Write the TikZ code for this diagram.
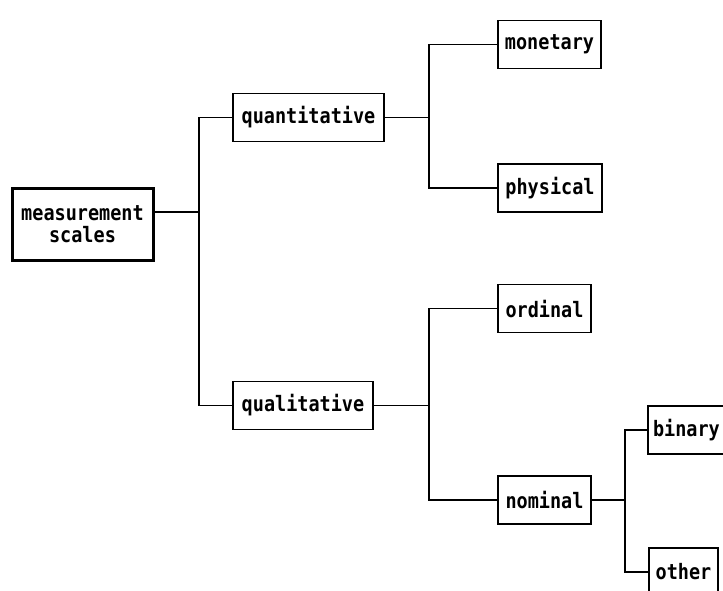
\documentclass[tikz,border=0pt]{standalone}
\usepackage{fontspec}
\usepackage{graphicx}
\newfontfamily\plotfont{DejaVu Sans Mono}
\newcommand{\tall}[1]{\scalebox{1}[1.15]{#1}}
\begin{document}
\begin{tikzpicture}[x=1pt,y=-1pt,
  box/.style={draw, line width=1.6pt, rectangle, inner sep=0pt,
    minimum height=48pt, align=center,
    font=\plotfont\bfseries\fontsize{18.5}{22}\selectfont},
  rootbox/.style={box, line width=3pt},
  wire/.style={line width=1.6pt}]
\useasboundingbox (0,0) rectangle (723,590);
\clip (0,0) rectangle (723,590);

% boxes
\node[rootbox, minimum width=141pt, minimum height=72pt] (meas) at (82.5,224) {\tall{measurement}\\\tall{scales}};
\node[box, minimum width=151pt] (quant) at (308.5,117.5) {\tall{quantitative}};
\node[box, minimum width=140pt] (qual) at (303,405.5) {\tall{qualitative}};
\node[box, minimum width=103pt] (mon) at (549.5,44.5) {\tall{monetary}};
\node[box, minimum width=104pt] (phys) at (550,188) {\tall{physical}};
\node[box, minimum width=93pt] (ord) at (544.5,308.5) {\tall{ordinal}};
\node[box, minimum width=93pt] (nom) at (544.5,500) {\tall{nominal}};
\node[box, minimum width=90pt, text width=80pt, align=left] (bin) at (693,430) {\tall{binary}};
\node[box, minimum width=69pt] (oth) at (683.5,572) {\tall{other}};

% junction points
\coordinate (j1) at (199,212);
\coordinate (j2) at (429,117.5);
\coordinate (j3) at (429,405.5);
\coordinate (j4) at (625,500);

% connectors
\draw[wire] ([yshift=12pt]meas.east) -- (j1);
\draw[wire] (quant.west) -| (j1) |- (qual.west);
\draw[wire] (quant.east) -- (j2);
\draw[wire] (mon.west) -| (j2) |- (phys.west);
\draw[wire] (qual.east) -- (j3);
\draw[wire] (ord.west) -| (j3) |- (nom.west);
\draw[wire] (nom.east) -- (j4);
\draw[wire] (bin.west) -| (j4) |- (oth.west);
\end{tikzpicture}
\end{document}
